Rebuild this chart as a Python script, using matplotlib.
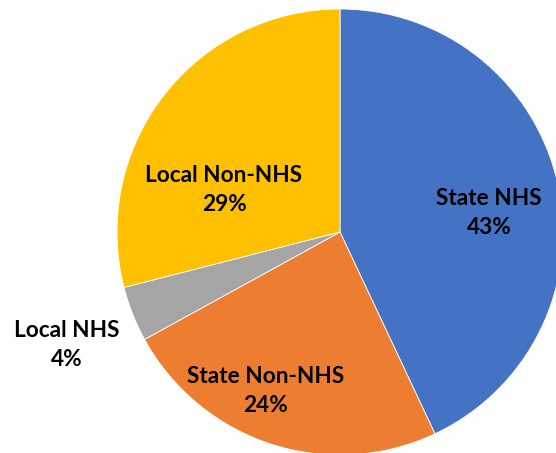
import matplotlib
matplotlib.use('Agg')
import matplotlib.pyplot as plt

categorias = ['State NHS', 'State Non-NHS', 'Local NHS', 'Local Non-NHS']
percentuais = [43, 24, 4, 29]
cores = ['#4472C4', '#ED7D31', '#A5A5A5', '#FFC000']

# posicao dos rotulos (unidades do raio)
posRotulos = [(0.668, 0.085), (-0.332, -0.713), (-1.224, -0.507), (-0.52, 0.188)]

fig = plt.figure(figsize=(5.56, 4.53), dpi=100)
ax = fig.add_axes([0, 0, 1, 1])

ax.pie(
    percentuais,
    colors=cores,
    startangle=90,
    counterclock=False,
    radius=1.0,
    wedgeprops={'edgecolor': 'white', 'linewidth': 0.6},
)

for nome, valor, (x, y) in zip(categorias, percentuais, posRotulos):
    ax.text(
        x, y, f'{nome}\n{valor}%',
        ha='center', va='center',
        fontsize=16.3, fontweight='bold', family='Lato',
        linespacing=1.45, color='black',
    )

# escala: raio = 223 px, centro em (340, 232) a partir do topo
r = 223.0
ax.set_xlim(-340 / r, (556 - 340) / r)
ax.set_ylim(-(453 - 232) / r, 232 / r)
ax.set_aspect('auto')
ax.axis('off')

fig.savefig('out.png', dpi=100)
